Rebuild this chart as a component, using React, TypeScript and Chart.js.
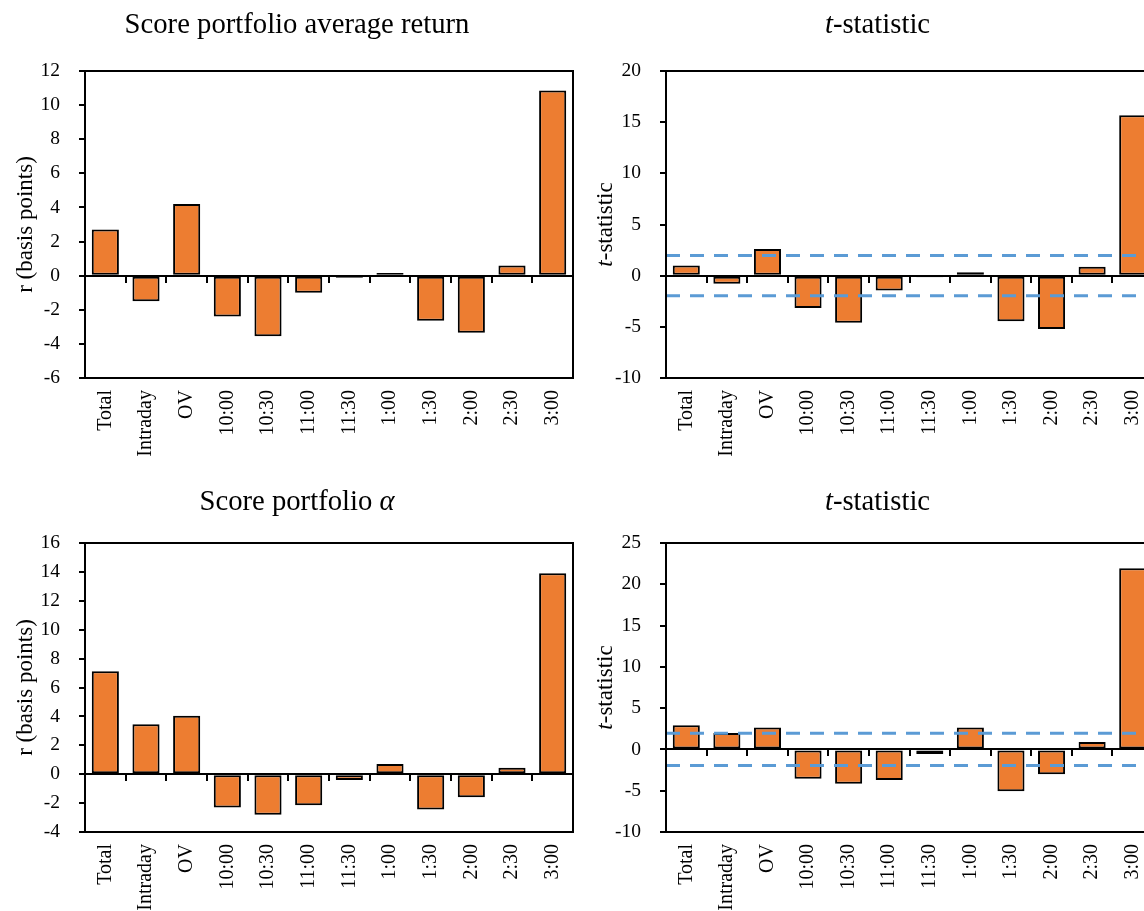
import React, { useEffect, useRef } from 'react';
import { Chart, registerables } from 'chart.js';

Chart.register(...registerables);

// ---------- data ----------
const categories = ['Total', 'Intraday', 'OV', '10:00', '10:30', '11:00', '11:30', '1:00', '1:30', '2:00', '2:30', '3:00'];
const averageReturn = [2.7, -1.5, 4.2, -2.4, -3.55, -1.0, -0.12, 0.15, -2.65, -3.35, 0.6, 10.85];
const averageReturnT = [1.0, -0.8, 2.6, -3.15, -4.6, -1.45, -0.15, 0.33, -4.45, -5.2, 0.88, 15.67];
const alphaReturn = [7.12, 3.45, 4.05, -2.3, -2.8, -2.15, -0.4, 0.7, -2.45, -1.6, 0.45, 13.9];
const alphaT = [2.92, 2.0, 2.67, -3.55, -4.15, -3.7, -0.55, 2.67, -5.05, -3.0, 0.9, 21.95];
const criticalT = [1.96, -1.96];
// axis ranges: [min, max, step]
const returnAxis = [-6, 12, 2];
const returnTAxis = [-10, 20, 5];
const alphaAxis = [-4, 16, 2];
const alphaTAxis = [-10, 25, 5];

const FONT = '"Liberation Serif", "Times New Roman", serif';
const BAR_COLOR = '#ED7D31';
const LINE_COLOR = '#5B9BD5';

type Seg = { text: string; italic?: boolean };

function drawSegments(ctx: CanvasRenderingContext2D, segs: Seg[], cx: number, baseline: number, size: number) {
  const fonts = segs.map((s) => `${s.italic ? 'italic ' : ''}${size}px ${FONT}`);
  const widths = segs.map((s, i) => {
    ctx.font = fonts[i];
    return ctx.measureText(s.text).width;
  });
  const total = widths.reduce((a, b) => a + b, 0);
  let x = cx - total / 2;
  ctx.textAlign = 'left';
  ctx.textBaseline = 'alphabetic';
  segs.forEach((s, i) => {
    ctx.font = fonts[i];
    ctx.fillText(s.text, x, baseline);
    x += widths[i];
  });
}

const decorPlugin = {
  id: 'decor',
  afterDraw(chart: any, _args: any, opts: any) {
    const { ctx, chartArea } = chart;
    ctx.save();
    // plot frame
    ctx.strokeStyle = '#000';
    ctx.lineWidth = 2;
    ctx.strokeRect(chartArea.left, chartArea.top, chartArea.right - chartArea.left, chartArea.bottom - chartArea.top);
    // title
    ctx.fillStyle = '#000';
    drawSegments(ctx, opts.title, chart.width / 2, opts.titleBaseline, 28.7);
    // y axis title
    ctx.translate(opts.yTitleX, (chartArea.top + chartArea.bottom) / 2);
    ctx.rotate(-Math.PI / 2);
    drawSegments(ctx, opts.yTitle, 0, 0, 23);
    ctx.restore();
  },
};

type Spec = {
  left: number;
  top: number;
  w: number;
  h: number;
  values: number[];
  axis: number[];
  critical: boolean;
  title: Seg[];
  yTitle: Seg[];
  titleBaseline: number;
  plotTop: number;
  axisW: number;
  xAxisH: number;
  padRight: number;
};

function buildConfig(spec: Spec): any {
  const datasets: any[] = [
    {
      type: 'bar',
      data: spec.values,
      backgroundColor: BAR_COLOR,
      borderColor: '#000',
      borderWidth: 2,
      borderSkipped: false,
      grouped: false,
      barPercentage: 0.667,
      categoryPercentage: 1,
      order: 1,
    },
  ];
  if (spec.critical) {
    criticalT.forEach((v) => {
      datasets.push({
        type: 'line',
        xAxisID: 'xl',
        data: [
          { x: 0, y: v },
          { x: categories.length, y: v },
        ],
        borderColor: LINE_COLOR,
        borderWidth: 3,
        borderDash: [14, 10],
        pointRadius: 0,
        fill: false,
        order: 0,
      });
    });
  }
  const yTickFont = { family: FONT, size: 19.5 };
  const xTickFont = { family: FONT, size: 20 };
  return {
    type: 'bar',
    data: { labels: categories, datasets },
    options: {
      responsive: false,
      animation: false,
      devicePixelRatio: 1,
      layout: { padding: { top: spec.plotTop, left: 0, right: spec.padRight, bottom: 0 } },
      plugins: {
        legend: { display: false },
        tooltip: { enabled: false },
        title: { display: false },
        decor: { title: spec.title, yTitle: spec.yTitle, titleBaseline: spec.titleBaseline, yTitleX: 32 },
      },
      scales: {
        x: {
          type: 'category',
          position: 'bottom',
          offset: true,
          grid: { display: false, drawTicks: false },
          border: { display: false },
          ticks: {
            autoSkip: false,
            minRotation: 90,
            maxRotation: 90,
            padding: 12,
            color: '#000',
            font: xTickFont,
          },
          afterFit: (s: any) => {
            s.height = spec.xAxisH;
          },
        },
        x2: {
          type: 'category',
          position: { y: 0 },
          offset: true,
          grid: { display: true, offset: true, drawOnChartArea: false, drawTicks: true, tickLength: 6, color: '#000', lineWidth: 2 },
          border: { display: true, color: '#000', width: 2 },
          ticks: { display: false },
        },
        xl: {
          type: 'linear',
          display: false,
          offset: false,
          grid: { offset: false },
          min: 0,
          max: categories.length,
        },
        y: {
          type: 'linear',
          position: 'left',
          min: spec.axis[0],
          max: spec.axis[1],
          grid: { display: true, drawOnChartArea: false, drawTicks: true, tickLength: 6, color: '#000', lineWidth: 2 },
          border: { display: false },
          ticks: { stepSize: spec.axis[2], padding: 19, color: '#000', font: yTickFont },
          afterFit: (s: any) => {
            s.width = spec.axisW;
          },
        },
      },
    },
    plugins: [decorPlugin],
  };
}

function ChartPanel({ spec }: { spec: Spec }) {
  const ref = useRef<HTMLCanvasElement>(null);
  useEffect(() => {
    const chart = new Chart(ref.current as HTMLCanvasElement, buildConfig(spec));
    return () => chart.destroy();
  }, []);
  return (
    <canvas
      ref={ref}
      width={spec.w}
      height={spec.h}
      style={{ position: 'absolute', left: spec.left, top: spec.top, width: spec.w, height: spec.h }}
    />
  );
}

const tTitle: Seg[] = [{ text: 't', italic: true }, { text: '-statistic' }];

const specs: Spec[] = [
  {
    left: 0, top: 0, w: 594, h: 460,
    values: averageReturn, axis: returnAxis, critical: false,
    title: [{ text: 'Score portfolio average return' }],
    yTitle: [{ text: 'r (basis points)' }],
    titleBaseline: 33, plotTop: 71, axisW: 85, xAxisH: 82, padRight: 21,
  },
  {
    left: 580, top: 0, w: 595, h: 460,
    values: averageReturnT, axis: returnTAxis, critical: true,
    title: tTitle, yTitle: tTitle,
    titleBaseline: 33, plotTop: 71, axisW: 86, xAxisH: 82, padRight: 22,
  },
  {
    left: 0, top: 460, w: 594, h: 451,
    values: alphaReturn, axis: alphaAxis, critical: false,
    title: [{ text: 'Score portfolio ' }, { text: 'α', italic: true }],
    yTitle: [{ text: 'r (basis points)' }],
    titleBaseline: 50, plotTop: 83, axisW: 85, xAxisH: 79, padRight: 21,
  },
  {
    left: 580, top: 460, w: 595, h: 451,
    values: alphaT, axis: alphaTAxis, critical: true,
    title: tTitle, yTitle: tTitle,
    titleBaseline: 50, plotTop: 83, axisW: 86, xAxisH: 79, padRight: 22,
  },
];

export default function App() {
  return (
    <div style={{ position: 'absolute', left: 0, top: 0, width: 1144, height: 911, overflow: 'hidden', background: '#fff' }}>
      {specs.map((s, i) => (
        <ChartPanel key={i} spec={s} />
      ))}
    </div>
  );
}
